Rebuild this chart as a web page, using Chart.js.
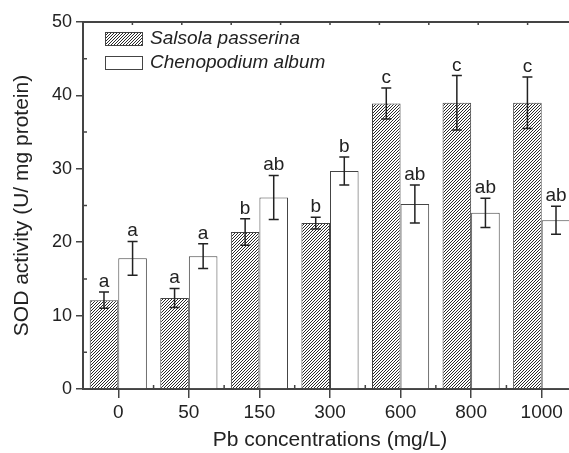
<!DOCTYPE html>
<html lang="en">
<head>
    <meta charset="UTF-8">
    <title>SOD activity</title>
    <script src="https://cdn.jsdelivr.net/npm/chart.js"></script>
    <style>
        html, body {
            margin: 0;
            padding: 0;
            background: #fff;
            overflow: hidden;
        }
        #wrap {
            width: 569px;
            height: 453px;
            overflow: hidden;
            position: relative;
        }
        #grafico {
            position: absolute;
            left: 0;
            top: 0;
        }
    </style>
</head>
<body>
<div id="wrap">
    <canvas id="grafico" width="580" height="453"></canvas>
</div>
<script>
    // data
    const categorias = ['0', '50', '150', '300', '600', '800', '1000'];
    const salsola = [12.1, 12.4, 21.4, 22.6, 38.9, 39.0, 39.0];
    const salsolaErr = [1.1, 1.3, 1.8, 0.8, 2.1, 3.7, 3.5];
    const salsolaLetras = ['a', 'a', 'b', 'b', 'c', 'c', 'c'];
    const cheno = [17.8, 18.1, 26.1, 29.7, 25.2, 24.0, 23.0];
    const chenoErr = [2.3, 1.7, 3.0, 1.9, 2.6, 2.0, 1.9];
    const chenoLetras = ['a', 'a', 'ab', 'b', 'ab', 'ab', 'ab'];
    const yTicks = [0, 10, 20, 30, 40, 50];

    const FONTE = '"Liberation Sans", Arial, sans-serif';
    const COR_EIXO = '#444';
    const COR_TEXTO = '#222';

    // diagonal hatch pattern (dense, ///)
    function hachura() {
        const c = document.createElement('canvas');
        c.width = 3;
        c.height = 3;
        const g = c.getContext('2d');
        g.fillStyle = '#fff';
        g.fillRect(0, 0, 3, 3);
        g.strokeStyle = '#2a2a2a';
        g.lineWidth = 1;
        g.beginPath();
        g.moveTo(-1, 4); g.lineTo(4, -1);
        g.moveTo(-1, 1); g.lineTo(1, -1);
        g.moveTo(2, 4); g.lineTo(4, 2);
        g.stroke();
        return g.createPattern(c, 'repeat');
    }

    const erros = [salsolaErr, chenoErr];
    const letras = [salsolaLetras, chenoLetras];

    // error bars, letters, frame ticks and legend
    const extras = {
        id: 'extras',
        afterDatasetsDraw(chart) {
            const ctx = chart.ctx;
            const y = chart.scales.y;
            ctx.save();
            chart.data.datasets.forEach((ds, di) => {
                const meta = chart.getDatasetMeta(di);
                meta.data.forEach((bar, i) => {
                    const v = ds.data[i];
                    const e = erros[di][i];
                    const yt = y.getPixelForValue(v + e);
                    const yb = y.getPixelForValue(v - e);
                    ctx.strokeStyle = '#222';
                    ctx.lineWidth = 1.5;
                    ctx.beginPath();
                    ctx.moveTo(bar.x, yt); ctx.lineTo(bar.x, yb);
                    ctx.moveTo(bar.x - 5, yt); ctx.lineTo(bar.x + 5, yt);
                    ctx.moveTo(bar.x - 5, yb); ctx.lineTo(bar.x + 5, yb);
                    ctx.stroke();
                    ctx.fillStyle = COR_TEXTO;
                    ctx.font = '19px ' + FONTE;
                    ctx.textAlign = 'center';
                    ctx.textBaseline = 'alphabetic';
                    ctx.fillText(letras[di][i], bar.x, yt - 5);
                });
            });
            ctx.restore();
        },
        afterDraw(chart) {
            const ctx = chart.ctx;
            const a = chart.chartArea;
            const y = chart.scales.y;
            const x = chart.scales.x;
            ctx.save();
            ctx.strokeStyle = COR_EIXO;
            ctx.lineWidth = 2;
            ctx.beginPath();
            ctx.moveTo(a.left, a.top); ctx.lineTo(a.right + 5, a.top);
            ctx.stroke();
            ctx.lineWidth = 1.5;
            ctx.beginPath();
            // minor y ticks inward
            for (let k = 0; k < yTicks.length - 1; k++) {
                const py = y.getPixelForValue((yTicks[k] + yTicks[k + 1]) / 2);
                ctx.moveTo(a.left, py); ctx.lineTo(a.left + 4, py);
            }
            // minor x ticks between groups
            for (let i = 0; i < categorias.length - 1; i++) {
                const px = (x.getPixelForValue(i) + x.getPixelForValue(i + 1)) / 2;
                ctx.moveTo(px, a.bottom); ctx.lineTo(px, a.bottom - 4);
            }
            // top frame ticks
            for (let k = 1; k < 11; k++) {
                const px = a.left + k * (a.right - a.left) / 10;
                ctx.moveTo(px, a.top); ctx.lineTo(px, a.top + 3);
            }
            ctx.stroke();

            // legend
            const lx = a.left + 22;
            let ly = a.top + 10;
            ctx.font = 'italic 19px ' + FONTE;
            ctx.textAlign = 'left';
            ctx.textBaseline = 'middle';
            chart.data.datasets.forEach(ds => {
                ctx.fillStyle = ds.backgroundColor;
                ctx.fillRect(lx, ly, 38, 14);
                ctx.strokeStyle = COR_EIXO;
                ctx.lineWidth = 1;
                ctx.strokeRect(lx + 0.5, ly + 0.5, 37, 13);
                ctx.fillStyle = COR_TEXTO;
                ctx.fillText(ds.label, lx + 45, ly + 7);
                ly += 24;
            });
            ctx.restore();
        }
    };

    const ctx = document.getElementById('grafico').getContext('2d');
    new Chart(ctx, {
        type: 'bar',
        data: {
            labels: categorias,
            datasets: [{
                label: 'Salsola passerina',
                data: salsola,
                backgroundColor: hachura(),
                borderColor: COR_EIXO,
                borderWidth: 1
            }, {
                label: 'Chenopodium album',
                data: cheno,
                backgroundColor: '#ffffff',
                borderColor: COR_EIXO,
                borderWidth: 1
            }]
        },
        options: {
            responsive: false,
            animation: false,
            devicePixelRatio: 1,
            layout: { padding: { top: 22, right: 3, left: 0, bottom: 0 } },
            datasets: {
                bar: { categoryPercentage: 0.81, barPercentage: 1.0 }
            },
            scales: {
                x: {
                    afterFit: s => { s.height = 64; },
                    grid: {
                        offset: false,
                        drawOnChartArea: false,
                        drawTicks: true,
                        tickLength: 9,
                        color: COR_EIXO,
                        lineWidth: 1.5
                    },
                    border: { display: true, color: COR_EIXO, width: 2 },
                    ticks: {
                        color: COR_TEXTO,
                        padding: 3,
                        font: { family: FONTE, size: 19 }
                    },
                    title: {
                        display: true,
                        text: 'Pb concentrations (mg/L)',
                        color: COR_TEXTO,
                        padding: { top: 0, bottom: 0 },
                        font: { family: FONTE, size: 21 }
                    }
                },
                y: {
                    min: 0,
                    max: 50,
                    afterFit: s => { s.width = 83; },
                    afterBuildTicks: s => { s.ticks = yTicks.map(v => ({ value: v })); },
                    grid: {
                        drawOnChartArea: false,
                        drawTicks: true,
                        tickLength: 7,
                        color: COR_EIXO,
                        lineWidth: 1.5
                    },
                    border: { display: true, color: COR_EIXO, width: 2 },
                    ticks: {
                        color: COR_TEXTO,
                        padding: 4,
                        font: { family: FONTE, size: 18 }
                    },
                    title: {
                        display: true,
                        text: 'SOD activity (U/ mg protein)',
                        color: COR_TEXTO,
                        padding: { top: 10, bottom: 0 },
                        font: { family: FONTE, size: 21 }
                    }
                }
            },
            plugins: {
                legend: { display: false },
                tooltip: { enabled: false }
            }
        },
        plugins: [extras]
    });
</script>
</body>
</html>
